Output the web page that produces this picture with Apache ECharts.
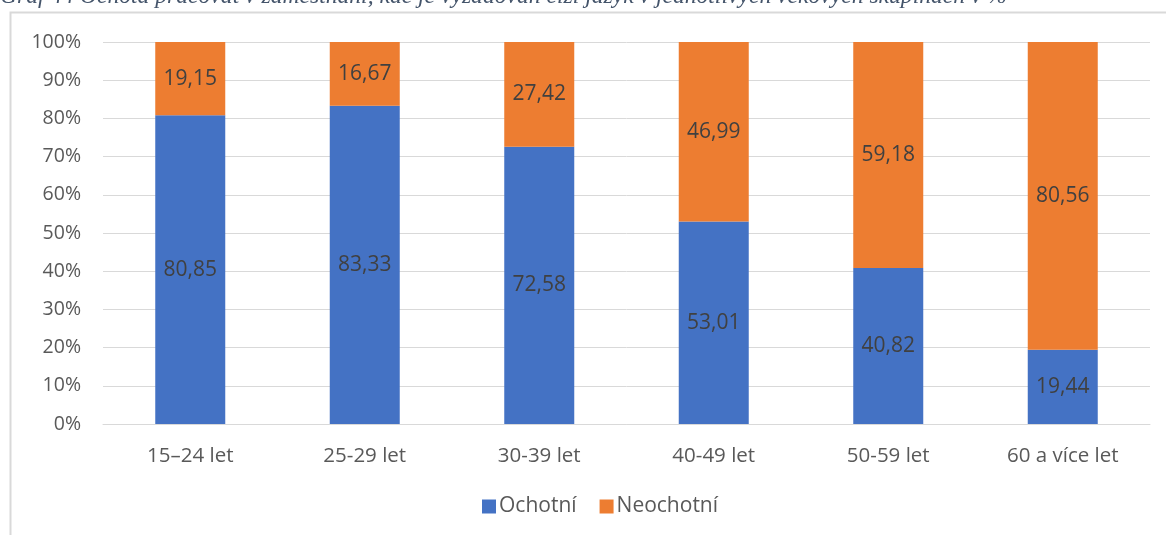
<!DOCTYPE html>
<html>
<head>
<meta charset="utf-8">
<script src="https://cdn.jsdelivr.net/npm/echarts@6/dist/echarts.min.js"></script>
<style>
  html, body { margin: 0; padding: 0; background: #fff; }
  #chart { width: 1166px; height: 535px; }
</style>
</head>
<body>
<div id="chart"></div>
<script>
const titleText = 'Graf 44 Ochota pracovat v zaměstnání, kde je vyžadován cizí jazyk v jednotlivých věkových skupinách v %';
const categories = ['15–24 let', '25-29 let', '30-39 let', '40-49 let', '50-59 let', '60 a více let'];
const willing = [80.85, 83.33, 72.58, 53.01, 40.82, 19.44];
const unwilling = [19.15, 16.67, 27.42, 46.99, 59.18, 80.56];
const seriesNames = ['Ochotní', 'Neochotní'];

const fmt = v => v.toFixed(2).replace('.', ',');
const font = '"Open Sans", "Noto Sans", sans-serif';

const chart = echarts.init(document.getElementById('chart'), null, { renderer: 'canvas' });

const labelStyle = {
  show: true,
  position: 'inside',
  color: '#404040',
  fontSize: 21,
  fontFamily: font,
  formatter: p => fmt(p.value)
};

chart.setOption({
  animation: false,
  graphic: [
    {
      type: 'rect',
      shape: { x: 10.5, y: 12.5, width: 1170, height: 540 },
      style: { fill: 'none', stroke: '#D9D9D9', lineWidth: 2 },
      silent: true
    },
    {
      type: 'text',
      x: 0,
      y: 9,
      style: {
        text: titleText,
        font: 'italic 23.6px "Liberation Serif", "DejaVu Serif", serif',
        fill: '#44546A',
        verticalAlign: 'bottom'
      }
    }
  ],
  grid: { left: 103, right: 16, top: 42, bottom: 111 },
  legend: {
    data: seriesNames,
    bottom: 13,
    left: 477,
    itemWidth: 14,
    itemHeight: 14,
    itemGap: 23,
    icon: 'rect',
    textStyle: { color: '#595959', fontSize: 21, fontFamily: font, padding: [0, 0, 0, -2] }
  },
  xAxis: {
    type: 'category',
    data: categories,
    axisLine: { show: true, lineStyle: { color: '#D9D9D9', width: 1 } },
    axisTick: { show: false },
    axisLabel: { color: '#595959', fontSize: 20.5, fontFamily: font, margin: 22 }
  },
  yAxis: {
    type: 'value',
    min: 0,
    max: 100,
    interval: 10,
    axisLine: { show: false },
    axisTick: { show: false },
    splitLine: { lineStyle: { color: '#D9D9D9', width: 1 } },
    axisLabel: { color: '#595959', fontSize: 19.5, fontFamily: font, margin: 22, formatter: '{value}%' }
  },
  series: [
    {
      name: seriesNames[0],
      type: 'bar',
      stack: 'total',
      data: willing,
      barWidth: 70,
      itemStyle: { color: '#4472C4' },
      label: labelStyle
    },
    {
      name: seriesNames[1],
      type: 'bar',
      stack: 'total',
      data: unwilling,
      barWidth: 70,
      itemStyle: { color: '#ED7D31' },
      label: labelStyle
    }
  ]
});
</script>
</body>
</html>
